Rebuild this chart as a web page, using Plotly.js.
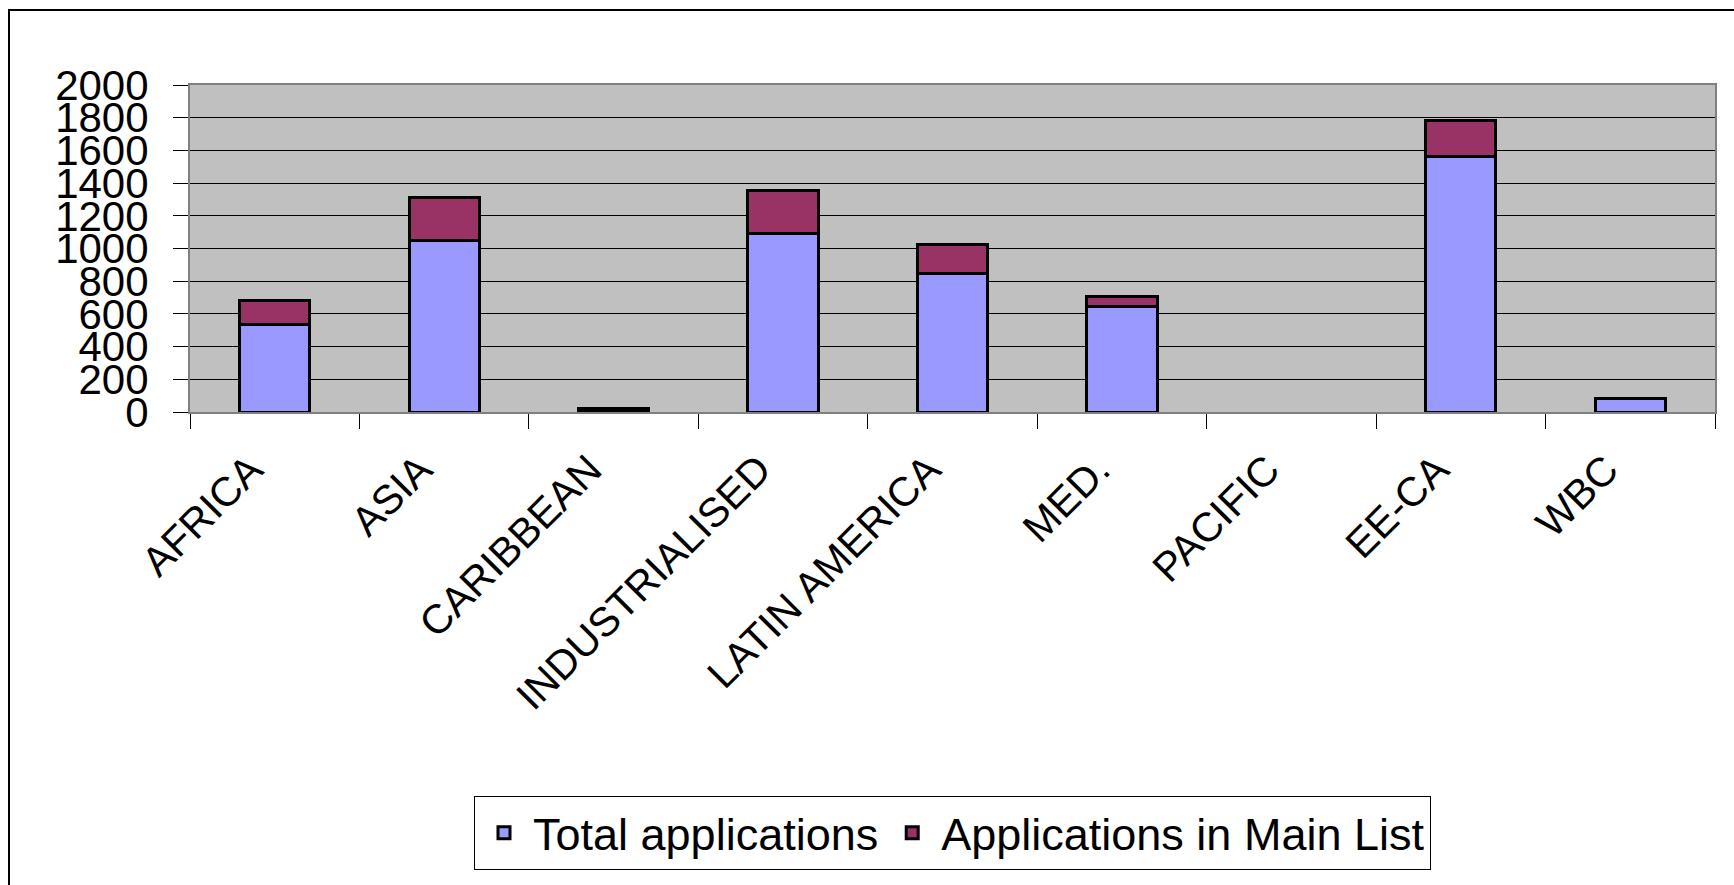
<!DOCTYPE html>
<html>
<head>
<meta charset="utf-8">
<script src="https://cdn.plot.ly/plotly-3.0.1.min.js"></script>
<style>
  html, body { margin: 0; padding: 0; background: #ffffff; overflow: hidden; }
  #frame { position: absolute; left: 8px; top: 9px; width: 1760px; height: 900px;
           border-top: 2px solid #000; border-left: 2px solid #000; box-sizing: border-box; pointer-events: none; }
  #chart { position: absolute; left: 0; top: 0; width: 1734px; height: 885px; }
</style>
</head>
<body>
<div id="chart"></div>
<div id="frame"></div>
<script>
const categories = ['AFRICA', 'ASIA', 'CARIBBEAN', 'INDUSTRIALISED', 'LATIN AMERICA', 'MED.', 'PACIFIC', 'EE-CA', 'WBC'];
const totalApplications = [534, 1047, 15, 1092, 846, 647, null, 1560, 85];
const mainListApplications = [150, 267, 5, 262, 176, 61, null, 222, null];
const yTicks = [0, 200, 400, 600, 800, 1000, 1200, 1400, 1600, 1800, 2000];

const FONT = '"Liberation Sans", Arial, sans-serif';

const traces = [
  {
    type: 'bar', name: 'Total applications', x: categories, y: totalApplications,
    marker: { color: '#9999FF', line: { color: '#000000', width: 3 } },
    hoverinfo: 'skip'
  },
  {
    type: 'bar', name: 'Applications in Main List', x: categories, y: mainListApplications,
    marker: { color: '#993366', line: { color: '#000000', width: 3 } },
    hoverinfo: 'skip'
  }
];

const layout = {
  width: 1734, height: 885,
  margin: { l: 190, r: 19, t: 85, b: 473, pad: 0 },
  paper_bgcolor: '#ffffff',
  plot_bgcolor: '#C0C0C0',
  barmode: 'stack',
  bargap: 0.585,
  showlegend: true,
  font: { family: FONT, color: '#000000', size: 40 },
  xaxis: {
    type: 'category',
    tickangle: -45,
    tickfont: { family: FONT, size: 41, color: '#000000' },
    ticks: 'outside', ticklen: 15, tickwidth: 1, tickcolor: '#000000',
    tickson: 'boundaries',
    ticklabelstandoff: 15,
    ticklabelshift: -24,
    showgrid: false,
    showline: true, linecolor: '#808080', linewidth: 2, mirror: true,
    fixedrange: true
  },
  yaxis: {
    range: [0, 2000],
    tickvals: yTicks,
    ticktext: yTicks.map(String),
    tickfont: { family: FONT, size: 42, color: '#000000' },
    ticks: 'outside', ticklen: 15, tickwidth: 1, tickcolor: '#000000',
    ticklabelstandoff: 16,
    showgrid: true, gridcolor: '#000000', gridwidth: 1,
    zeroline: false,
    showline: true, linecolor: '#808080', linewidth: 2, mirror: true,
    fixedrange: true
  },
  legend: {
    orientation: 'h',
    x: 0.5, xanchor: 'center',
    y: -1.174, yanchor: 'top',
    bgcolor: '#ffffff',
    bordercolor: '#000000', borderwidth: 1,
    itemwidth: 48,
    font: { family: FONT, size: 45, color: '#000000' },
    traceorder: 'normal'
  }
};

Plotly.newPlot('chart', traces, layout, { staticPlot: true, displayModeBar: false });
</script>
</body>
</html>
